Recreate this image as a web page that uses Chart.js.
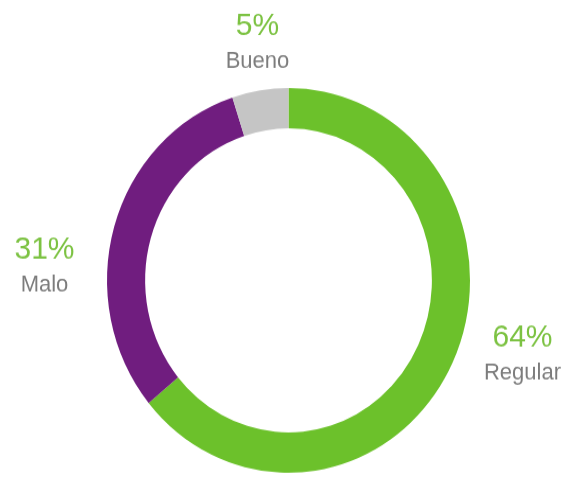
<!DOCTYPE html>
<html>
<head>
<meta charset="utf-8">
<script src="https://cdn.jsdelivr.net/npm/chart.js@4/dist/chart.umd.min.js"></script>
<style>
    html, body { margin: 0; padding: 0; background: #fff; overflow: hidden; }
    #chart { display: block; }
</style>
</head>
<body>
<!-- drawn at 563x450, shown slightly taller -->
<canvas id="chart" width="563" height="450" style="width:563px;height:477px"></canvas>
<script>
const categories = ["Regular", "Malo", "Bueno"];
const percentages = [64, 31, 5];
const colors = ["#6cc12b", "#701d7f", "#c5c5c5"];

// where each label sits, relative to the chart centre (px)
const labelOffsets = [[234, 77], [-244, -6], [-31, -217]];

const ringLabels = {
    id: "ringLabels",
    afterDraw(chart) {
        const ctx = chart.ctx;
        const arc = chart.getDatasetMeta(0).data[0];
        const cx = arc.x, cy = arc.y;
        ctx.save();
        ctx.textAlign = "center";
        ctx.textBaseline = "alphabetic";
        chart.data.labels.forEach((name, i) => {
            const x = cx + labelOffsets[i][0];
            const y = cy + labelOffsets[i][1];
            ctx.fillStyle = "#7cc242";
            ctx.font = "30px 'Liberation Sans', Arial, sans-serif";
            ctx.fillText(chart.data.datasets[0].data[i] + "%", x, y - 15);
            ctx.fillStyle = "#7c7c7c";
            ctx.font = "22px 'Liberation Sans', Arial, sans-serif";
            ctx.fillText(name, x, y + 16);
        });
        ctx.restore();
    }
};

new Chart(document.getElementById("chart"), {
    type: "doughnut",
    data: {
        labels: categories,
        datasets: [{
            data: percentages,
            backgroundColor: colors,
            borderWidth: 0,
        }],
    },
    options: {
        responsive: false,
        devicePixelRatio: 1,
        animation: false,
        cutout: "79%",
        layout: { padding: { left: 107, right: 93, top: 83, bottom: 4 } },
        plugins: {
            legend: { display: false },
            tooltip: { enabled: false },
        },
    },
    plugins: [ringLabels],
});
</script>
</body>
</html>
